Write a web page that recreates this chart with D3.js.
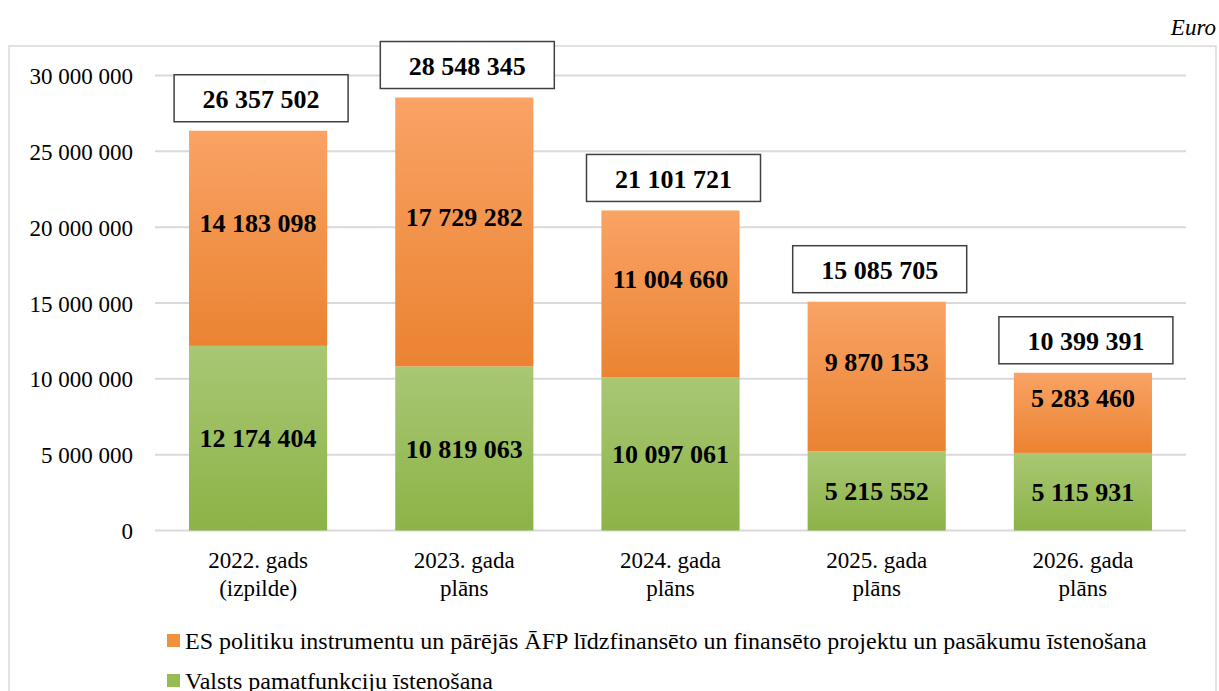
<!DOCTYPE html>
<html>
<head>
<meta charset="utf-8">
<script src="https://cdn.jsdelivr.net/npm/d3@7"></script>
<style>
  body { margin:0; background:#fff; }
  svg text { font-family: "Liberation Serif", "Times New Roman", serif; }
</style>
</head>
<body>
<svg id="chart" width="1219" height="691" font-family="Liberation Serif, serif"></svg>
<script>
var svg = d3.select("#chart");

// Data
var categories = [["2022. gads", "(izpilde)"], ["2023. gada", "plāns"], ["2024. gada", "plāns"], ["2025. gada", "plāns"], ["2026. gada", "plāns"]];
var valsts = [12174404, 10819063, 10097061, 5215552, 5115931];
var esProj = [14183098, 17729282, 11004660, 9870153, 5283460];
var totals = [26357502, 28548345, 21101721, 15085705, 10399391];
var yTicks = [0, 5000000, 10000000, 15000000, 20000000, 25000000, 30000000];
var legendLabels = ["ES politiku instrumentu un pārējās ĀFP līdzfinansēto un finansēto projektu un pasākumu īstenošana",
                    "Valsts pamatfunkciju īstenošana"];

// Dimensions
var dim = { left:155, right:1186, top:75.5, bottom:530.5 };

// Colors
var orangeTop = "#f9a365", orangeBot = "#eb8331";
var greenTop = "#a9c774", greenBot = "#8cb347";
var gridColor = "#d9d9d9";

var fmt = function(v) { return d3.format(",")(v).replace(/,/g, " "); };

// Gradients
var defs = svg.append("defs");
function grad(id, c1, c2) {
  var g = defs.append("linearGradient").attr("id", id)
              .attr("x1", 0).attr("y1", 0).attr("x2", 0).attr("y2", 1);
  g.append("stop").attr("offset", "0%").attr("stop-color", c1);
  g.append("stop").attr("offset", "100%").attr("stop-color", c2);
}
grad("gOrange", orangeTop, orangeBot);
grad("gGreen", greenTop, greenBot);

// Frame
svg.append("rect")
   .attr("x", 9).attr("y", 46).attr("width", 1207).attr("height", 660)
   .attr("fill", "none").attr("stroke", gridColor).attr("stroke-width", 1.5);

svg.append("text")
   .attr("x", 1216).attr("y", 35)
   .attr("text-anchor", "end")
   .style("font-style", "italic").style("font-size", "23px")
   .text("Euro");

// Scales
var xScale = d3.scaleBand()
               .domain(d3.range(categories.length))
               .range([dim.left, dim.right])
               .paddingInner(0.33).paddingOuter(0.165);
var yScale = d3.scaleLinear()
               .domain([0, 30000000])
               .range([dim.bottom, dim.top]);

// Gridlines
svg.append("g").selectAll("line")
   .data(yTicks).enter().append("line")
   .attr("x1", dim.left).attr("x2", dim.right)
   .attr("y1", function(d) { return yScale(d); })
   .attr("y2", function(d) { return yScale(d); })
   .attr("stroke", gridColor).attr("stroke-width", 2);

// Y axis labels
var yAxis = d3.axisLeft(yScale).tickValues(yTicks).tickSize(0).tickPadding(0).tickFormat(fmt);
var gy = svg.append("g")
   .attr("transform", "translate(133,0)")
   .call(yAxis)
   .attr("font-family", "Liberation Serif, serif");
gy.select(".domain").remove();
gy.selectAll("text")
  .style("font-size", "23px").attr("fill", "#000").attr("dy", "0.35em");

// Bars
var bw = xScale.bandwidth();
var bars = svg.append("g");
bars.selectAll(".green").data(valsts).enter().append("rect")
    .attr("x", function(d, i) { return xScale(i); })
    .attr("y", function(d) { return yScale(d); })
    .attr("width", bw)
    .attr("height", function(d) { return yScale(0) - yScale(d); })
    .attr("fill", "url(#gGreen)");
bars.selectAll(".orange").data(esProj).enter().append("rect")
    .attr("x", function(d, i) { return xScale(i); })
    .attr("y", function(d, i) { return yScale(d + valsts[i]); })
    .attr("width", bw)
    .attr("height", function(d, i) { return yScale(valsts[i]) - yScale(d + valsts[i]); })
    .attr("fill", "url(#gOrange)");

// Segment labels
var labels = svg.append("g").style("font-weight", "bold").style("font-size", "26px")
                .attr("text-anchor", "middle");
labels.selectAll(".lg").data(valsts).enter().append("text")
      .attr("x", function(d, i) { return xScale(i) + bw / 2; })
      .attr("y", function(d) { return (yScale(0) + yScale(d)) / 2; })
      .attr("dy", "0.35em")
      .text(fmt);
labels.selectAll(".lo").data(esProj).enter().append("text")
      .attr("x", function(d, i) { return xScale(i) + bw / 2; })
      .attr("y", function(d, i) { return (yScale(valsts[i]) + yScale(d + valsts[i])) / 2 - 15; })
      .attr("dy", "0.35em")
      .text(fmt);

// Total boxes
var tg = svg.append("g").selectAll("g").data(totals).enter().append("g")
            .attr("transform", function(d, i) {
              return "translate(" + (xScale(i) + bw / 2 + 3) + "," + (yScale(d) - 32) + ")";
            });
tg.append("rect")
  .attr("x", -87).attr("y", -24).attr("width", 174).attr("height", 47)
  .attr("fill", "#fff").attr("stroke", "#404040").attr("stroke-width", 1.5);
tg.append("text")
  .attr("text-anchor", "middle").attr("dy", "0.35em")
  .style("font-weight", "bold").style("font-size", "26px")
  .text(fmt);

// Category labels
var cg = svg.append("g").selectAll("text").data(categories).enter().append("text")
            .attr("text-anchor", "middle")
            .style("font-size", "23px")
            .attr("x", function(d, i) { return xScale(i) + bw / 2; })
            .attr("y", 568);
cg.selectAll("tspan").data(function(d) { return d; }).enter().append("tspan")
  .attr("x", function() { return d3.select(this.parentNode).attr("x"); })
  .attr("dy", function(d, j) { return j === 0 ? 0 : 28; })
  .text(function(d) { return d; });

// Legend
var lg = svg.append("g").selectAll("g").data(legendLabels).enter().append("g")
            .attr("transform", function(d, i) { return "translate(167," + (641 + i * 40) + ")"; });
lg.append("rect")
  .attr("x", 0).attr("y", -7).attr("width", 13).attr("height", 13)
  .attr("fill", function(d, i) { return i === 0 ? "#f3903f" : "#97bb55"; });
lg.append("text")
  .attr("x", 18).attr("dy", "0.35em")
  .style("font-size", "24px")
  .text(function(d) { return d; });
</script>
</body>
</html>
